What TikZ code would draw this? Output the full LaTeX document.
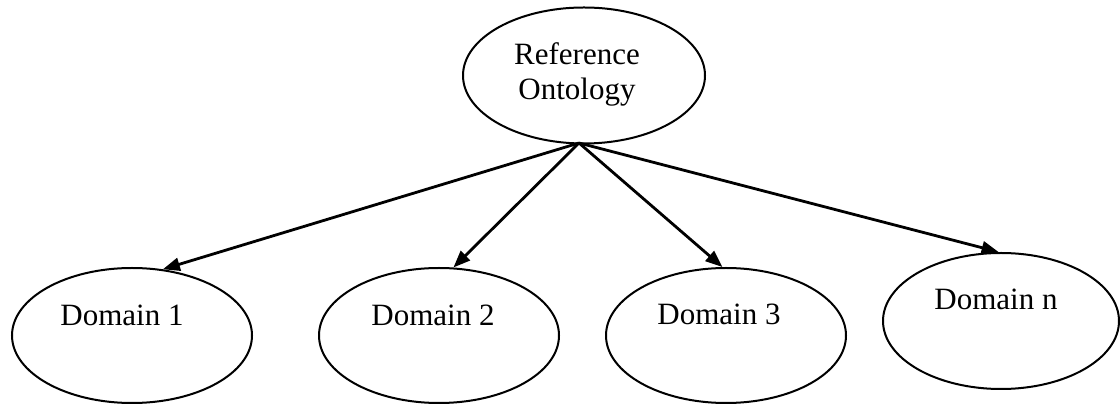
\documentclass[tikz,border=0pt]{standalone}
\usepackage{fontspec}
\setmainfont{Liberation Serif}
\usetikzlibrary{shapes.geometric,arrows.meta}
\tikzset{
  oval/.style={draw=black,ellipse,line width=2pt,inner sep=0pt,minimum width=240pt,minimum height=135pt},
  lbl/.style={font=\fontsize{31}{35}\selectfont,inner sep=0pt,align=center},
  conn/.style={line width=2.8pt,-{Triangle[length=17pt,width=13pt]}}
}
\begin{document}
\begin{tikzpicture}[x=1pt,y=1pt]
\useasboundingbox (0,0) rectangle (1120,404);
\node[oval,minimum width=242pt,minimum height=136pt] (top) at (584,328.5) {};
\node[oval] (d1) at (132,68.5) {};
\node[oval] (d2) at (439,68.5) {};
\node[oval] (d3) at (726,68.5) {};
\node[oval,minimum width=236pt,minimum height=136pt] (dn) at (1001,83) {};
\node[lbl,anchor=base] (t0a) at (577,339) {Reference};
\node[lbl,anchor=base] (t0b) at (577,304) {Ontology};
\node[lbl,anchor=base] (t1) at (122,78) {Domain 1};
\node[lbl,anchor=base] (t2) at (433,78) {Domain 2};
\node[lbl,anchor=base] (t3) at (719,79) {Domain 3};
\node[lbl,anchor=base] (tn) at (996,94) {Domain n};
\coordinate (apex) at (579,261);
\draw[conn] (apex) -- (d1.65);
\draw[conn] (apex) -- (d2.78);
\draw[conn] (apex) -- (d3.93);
\draw[conn] (apex) -- (dn.92);
\end{tikzpicture}
\end{document}
